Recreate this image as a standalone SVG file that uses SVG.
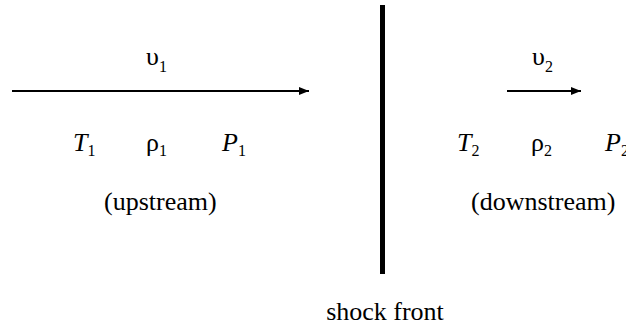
<svg xmlns="http://www.w3.org/2000/svg" width="626" height="331" viewBox="0 0 626 331">
<style>
text{font-family:"Liberation Serif","Times New Roman",serif;font-size:26px;fill:#000}
.i{font-style:italic}
.s{font-size:16px;font-style:normal}
.c{stroke:#000;fill:none}
</style>
<defs>
<marker id="ah" viewBox="0 0 10 8" refX="10" refY="4" markerWidth="10" markerHeight="8" markerUnits="userSpaceOnUse" orient="auto"><path d="M0,0L10,4L0,8z" fill="#000"/></marker>
</defs>
<rect width="626" height="331" fill="#fff"/>
<g id="connectors">
<line class="c" x1="12" y1="91" x2="309" y2="91" stroke-width="2" marker-end="url(#ah)"/>
<line class="c" x1="507" y1="91" x2="581" y2="91" stroke-width="2" marker-end="url(#ah)"/>
</g>
<g id="shock">
<rect x="380" y="5" width="5" height="269" fill="#000"/>
<text x="385" y="320" text-anchor="middle">shock front</text>
</g>
<g id="upstream">
<text x="146" y="65">υ<tspan class="s" dy="7">1</tspan></text>
<text x="73" y="151"><tspan class="i">T</tspan><tspan class="s" dy="5">1</tspan></text>
<text x="146" y="151">ρ<tspan class="s" dy="5">1</tspan></text>
<text x="222" y="151"><tspan class="i">P</tspan><tspan class="s" dy="5">1</tspan></text>
<text x="104" y="210">(upstream)</text>
</g>
<g id="downstream">
<text x="532" y="65">υ<tspan class="s" dy="7">2</tspan></text>
<text x="457" y="151"><tspan class="i">T</tspan><tspan class="s" dy="5">2</tspan></text>
<text x="531" y="151">ρ<tspan class="s" dy="5">2</tspan></text>
<text x="605" y="151"><tspan class="i">P</tspan><tspan class="s" dy="5">2</tspan></text>
<text x="471" y="210">(downstream)</text>
</g>
</svg>
